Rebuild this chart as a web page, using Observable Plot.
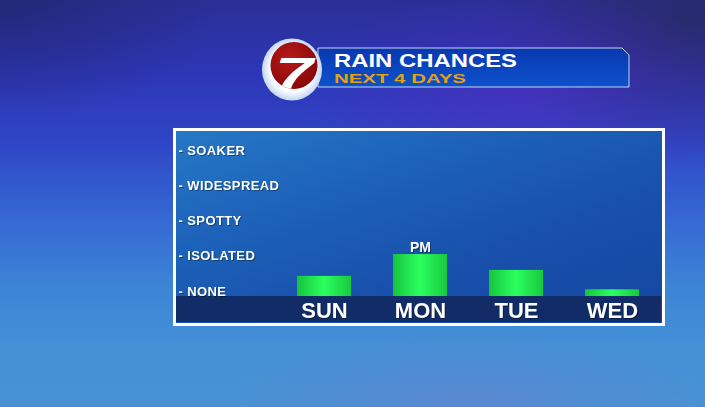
<!DOCTYPE html>
<html>
<head>
<meta charset="utf-8">
<script src="https://cdn.jsdelivr.net/npm/d3@7"></script>
<script src="https://cdn.jsdelivr.net/npm/@observablehq/plot@0.6"></script>
<style>
  html, body { margin: 0; padding: 0; }
  body {
    width: 705px; height: 407px; overflow: hidden; position: relative;
    font-family: "Liberation Sans", Arial, sans-serif;
    background:
      radial-gradient(ellipse 220px 110px at 520px 95px, rgba(90,40,190,0.45), rgba(90,40,190,0) 100%),
      radial-gradient(ellipse 240px 70px at 470px 400px, rgba(140,110,200,0.25), rgba(140,110,200,0) 100%),
      radial-gradient(ellipse 200px 140px at 690px 20px, rgba(40,40,90,0.7), rgba(40,40,90,0) 100%),
      radial-gradient(ellipse 220px 120px at 0px 0px, rgba(30,35,100,0.6), rgba(30,35,100,0) 100%),
      linear-gradient(180deg, #2a2f96 0%, #2d36b6 18%, #2f46c6 35%, #3565d2 52%, #3c84d6 70%, #4390d6 85%, #4892d2 100%);
  }
  #panel {
    position: absolute; left: 173px; top: 128px; width: 492px; height: 198px;
    box-sizing: border-box; border: 3px solid #ffffff;
    background: linear-gradient(160deg, #2678c6 0%, #1d63ba 30%, #1850ab 65%, #1446a2 100%);
  }
  #strip {
    position: absolute; left: 176px; top: 296px; width: 485px; height: 26px;
    background: #122c68;
  }
  #header, #chart { position: absolute; left: 0; top: 0; }
  #chart svg { background: transparent; overflow: visible; }
</style>
</head>
<body>
<div id="panel"></div>
<div id="strip"></div>
<svg id="header" width="705" height="407" xmlns="http://www.w3.org/2000/svg">
  <defs>
    <linearGradient id="bannerGrad" x1="0" y1="0" x2="0" y2="1">
      <stop offset="0" stop-color="#0838b0"/>
      <stop offset="1" stop-color="#0d52cc"/>
    </linearGradient>
    <radialGradient id="halo" cx="0.5" cy="0.5" r="0.5">
      <stop offset="0.7" stop-color="#ffffff"/>
      <stop offset="1" stop-color="#c4d6f2"/>
    </radialGradient>
    <radialGradient id="redGrad" cx="0.4" cy="0.35" r="0.7">
      <stop offset="0" stop-color="#b81818"/>
      <stop offset="1" stop-color="#860808"/>
    </radialGradient>
    <clipPath id="redClip"><circle cx="294" cy="65.5" r="23.5"/></clipPath>
  </defs>
  <path d="M318,48 L622,48 L629,55 L629,87 L318,87 Z" fill="url(#bannerGrad)" stroke="#c9d2ec" stroke-width="1"/>
  <ellipse cx="292" cy="69.5" rx="30" ry="31" fill="url(#halo)"/>
  <circle cx="294" cy="65.5" r="23.5" fill="url(#redGrad)"/>
  <text x="294" y="89" clip-path="url(#redClip)" text-anchor="middle" font-family="Liberation Sans, Arial, sans-serif"
        font-weight="bold" font-style="italic" font-size="44" fill="#ffffff" textLength="38" lengthAdjust="spacingAndGlyphs">7</text>
  <text x="334" y="66.5" font-family="Liberation Sans, Arial, sans-serif" font-weight="bold" font-size="17.5" fill="#ffffff"
        textLength="183" lengthAdjust="spacingAndGlyphs">RAIN CHANCES</text>
  <text x="334" y="82.5" font-family="Liberation Sans, Arial, sans-serif" font-weight="bold" font-size="13" fill="#e6a014"
        textLength="132" lengthAdjust="spacingAndGlyphs">NEXT 4 DAYS</text>
</svg>
<div id="chart"></div>
<script>
// ---- data ----
const days = ["SUN", "MON", "TUE", "WED"];
const rainValues = [0.57, 1.19, 0.74, 0.19];
const levelValues = [0, 1, 2, 3, 4];
const levelLabels = ["NONE", "ISOLATED", "SPOTTY", "WIDESPREAD", "SOAKER"];
const noteDays = ["MON"];
const noteTexts = ["PM"];

const bars = days.map((d, i) => ({day: d, value: rainValues[i]}));
const notes = noteDays.map((d, i) => ({day: d, value: rainValues[days.indexOf(d)], text: noteTexts[i]}));

const plot = Plot.plot({
  width: 705,
  height: 407,
  marginTop: 155,
  marginBottom: 111,
  marginLeft: 178,
  marginRight: 22,
  style: {background: "transparent", fontFamily: "Liberation Sans, Arial, sans-serif", overflow: "visible"},
  x: {domain: days, range: [253.5, 682.7], padding: 0.44, label: null},
  y: {domain: [0, 4], label: null},
  marks: [
    Plot.barY(bars, {x: "day", y: "value", fill: "url(#barGrad)"}),
    Plot.text(notes, {x: "day", y: "value", text: "text", dy: -7.5, fill: "#ffffff",
      fontSize: 14, fontWeight: "bold"}),
    Plot.axisY({anchor: "left", ticks: levelValues, tickFormat: v => "- " + levelLabels[v],
      tickSize: 0, tickPadding: 0, textAnchor: "start", dy: -5, fill: "#ffffff",
      fontSize: 13, fontWeight: "bold", label: null}),
    Plot.axisX({anchor: "bottom", tickSize: 0, tickPadding: 6, fill: "#ffffff",
      fontSize: 22, fontWeight: "bold", label: null})
  ]
});

const svg = d3.select(plot);
const defs = svg.insert("defs", ":first-child");
const g = defs.append("linearGradient").attr("id", "barGrad").attr("x1", 0).attr("x2", 1).attr("y1", 0).attr("y2", 0);
g.append("stop").attr("offset", 0).attr("stop-color", "#16c43e");
g.append("stop").attr("offset", 0.5).attr("stop-color", "#2bff5e");
g.append("stop").attr("offset", 1).attr("stop-color", "#18c840");

svg.selectAll('g[aria-label="y-axis tick label"] text')
  .style("letter-spacing", "0.4px")
  .style("filter", "drop-shadow(1px 1px 0 rgba(0,0,0,0.35))");
svg.selectAll('g[aria-label="x-axis tick label"] text')
  .style("filter", "drop-shadow(1px 1px 0 rgba(0,0,0,0.3))");
svg.selectAll('g[aria-label="text"] text')
  .style("filter", "drop-shadow(1px 1px 0 rgba(0,0,0,0.4))");

document.getElementById("chart").appendChild(plot);
</script>
</body>
</html>
